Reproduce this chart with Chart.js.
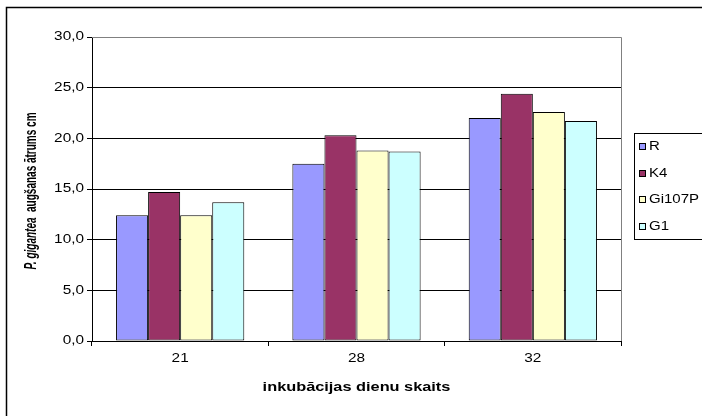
<!DOCTYPE html>
<html>
<head>
<meta charset="utf-8">
<script src="https://cdn.jsdelivr.net/npm/chart.js@4.4.1/dist/chart.umd.min.js"></script>
<style>
  html, body { margin: 0; padding: 0; background: #fff; }
  #wrap { width: 702px; height: 416px; }
</style>
</head>
<body>
<div id="wrap"><canvas id="growthChart" width="702" height="416"></canvas></div>
<script>
// Data
const days = ['21', '28', '32'];
const seriesNames = ['R', 'K4', 'Gi107P', 'G1'];
const valuesR = [12.4, 17.5, 22.0];
const valuesK4 = [14.7, 20.3, 24.4];
const valuesGi107P = [12.4, 18.8, 22.6];
const valuesG1 = [13.7, 18.7, 21.7];
const seriesColors = ['#9999FF', '#993366', '#FFFFCC', '#CCFFFF'];
const xTitle = 'inkubācijas dienu skaits';
const yTitleItalic = 'P. gigantea';
const yTitleRest = '  augšanas ātrums cm';

const FONT = '"Liberation Sans", Arial, sans-serif';

const formatTick = v => v.toFixed(1).replace('.', ',');

// the old Excel picture has its text stretched sideways, so text is drawn by hand
function drawText(ctx, text, x, y, align, font, sx) {
    ctx.save();
    ctx.translate(x, y);
    ctx.scale(sx, 1);
    ctx.font = font;
    ctx.fillStyle = '#000';
    ctx.textAlign = align;
    ctx.textBaseline = 'middle';
    ctx.fillText(text, 0, 0);
    ctx.restore();
}

const chartDecor = {
    id: 'chartDecor',
    beforeDraw(chart) {
        const ctx = chart.ctx;
        ctx.save();
        ctx.fillStyle = '#fff';
        ctx.fillRect(0, 0, chart.width, chart.height);
        ctx.strokeStyle = '#000';
        ctx.lineWidth = 1.5;
        ctx.strokeRect(6.5, 7.5, chart.width + 20, chart.height + 20);
        ctx.restore();
    },
    beforeDatasetsDraw(chart) {
        // gray plot frame on top and right
        const { ctx, chartArea: a } = chart;
        ctx.save();
        ctx.strokeStyle = '#808080';
        ctx.lineWidth = 1;
        ctx.beginPath();
        ctx.moveTo(a.left, Math.round(a.top) + 0.5);
        ctx.lineTo(Math.round(a.right) + 0.5, Math.round(a.top) + 0.5);
        ctx.lineTo(Math.round(a.right) + 0.5, a.bottom);
        ctx.stroke();
        ctx.restore();
    },
    afterDraw(chart) {
        const { ctx, chartArea: a } = chart;
        const xs = chart.scales.x;
        const ys = chart.scales.y;

        // tick labels
        ys.ticks.forEach((t, i) => {
            drawText(ctx, formatTick(t.value), 84, ys.getPixelForTick(i), 'right', '12px ' + FONT, 1.28);
        });
        xs.ticks.forEach((t, i) => {
            drawText(ctx, days[i], xs.getPixelForTick(i), 359, 'center', '12px ' + FONT, 1.28);
        });

        // x axis title
        drawText(ctx, xTitle, (a.left + a.right) / 2, 388, 'center', 'bold 12px ' + FONT, 1.36);

        // y axis title, "P. gigantea" in italics
        ctx.save();
        ctx.translate(31.5, 191);
        ctx.rotate(-Math.PI / 2);
        ctx.scale(1, 1.7);
        ctx.fillStyle = '#000';
        ctx.textBaseline = 'middle';
        ctx.textAlign = 'left';
        ctx.font = 'italic bold 10px ' + FONT;
        const w1 = ctx.measureText(yTitleItalic).width;
        ctx.font = 'bold 10px ' + FONT;
        const w2 = ctx.measureText(yTitleRest).width;
        const x0 = -(w1 + w2) / 2;
        ctx.font = 'italic bold 10px ' + FONT;
        ctx.fillText(yTitleItalic, x0, 0);
        ctx.font = 'bold 10px ' + FONT;
        ctx.fillText(yTitleRest, x0 + w1, 0);
        ctx.restore();

        // legend
        ctx.save();
        ctx.strokeStyle = '#000';
        ctx.lineWidth = 1;
        ctx.strokeRect(634.5, 133.5, 100, 106);
        chart.data.datasets.forEach((ds, i) => {
            const cy = Math.round(147 + i * 26.6);
            ctx.fillStyle = ds.backgroundColor;
            ctx.fillRect(639, cy - 3, 6, 6);
            ctx.strokeRect(639.5, cy - 3.5, 6, 6);
            drawText(ctx, ds.label, 649, cy, 'left', '12px ' + FONT, 1.25);
        });
        ctx.restore();
    }
};

const allValues = [valuesR, valuesK4, valuesGi107P, valuesG1];

new Chart(document.getElementById('growthChart'), {
    type: 'bar',
    data: {
        labels: days,
        datasets: seriesNames.map((name, i) => ({
            label: name,
            data: allValues[i],
            backgroundColor: seriesColors[i],
            borderColor: '#000',
            borderWidth: 1,
            borderSkipped: false,
            categoryPercentage: 4 / 5.5,
            barPercentage: 1
        }))
    },
    options: {
        responsive: false,
        animation: false,
        layout: { padding: { left: 0, top: 37, right: 81, bottom: 0 } },
        plugins: {
            legend: { display: false },
            tooltip: { enabled: false }
        },
        scales: {
            x: {
                grid: { drawOnChartArea: false, drawTicks: true, tickLength: 5, color: '#000', offset: true },
                border: { color: '#000', width: 1 },
                ticks: { display: false },
                afterFit(scale) { scale.height = 75; }
            },
            y: {
                min: 0,
                max: 30,
                ticks: { stepSize: 5, display: false },
                grid: {
                    color: c => (c.tick && c.tick.value === 30 ? '#808080' : '#000'),
                    tickColor: '#000',
                    tickLength: 5
                },
                border: { color: '#000', width: 1 },
                afterFit(scale) { scale.width = 92; }
            }
        }
    },
    plugins: [chartDecor]
});
</script>
</body>
</html>
